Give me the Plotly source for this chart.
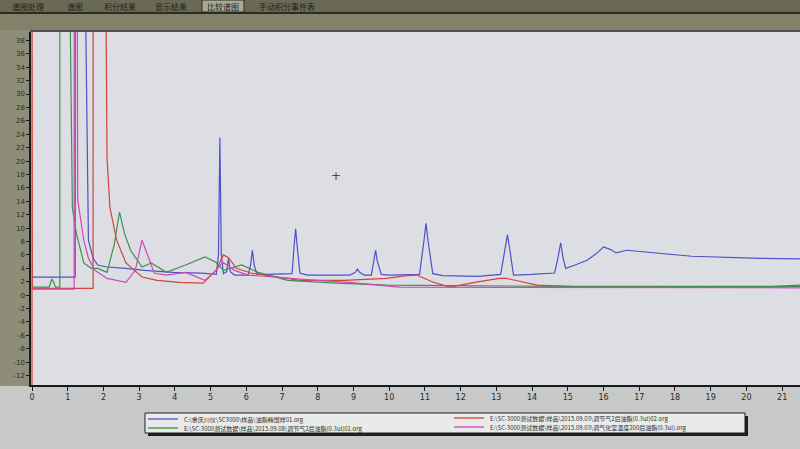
import plotly.graph_objects as go

# ---------------- data (time in min, signal in mV) ----------------
blue_pts = [(0.0, 2.7), (1.21, 2.7), (1.21, 60), (1.46, 60), (1.58, 8.2), (1.71, 5.5), (1.84, 4.5),
            (2.10, 4.2), (2.63, 4.0), (3.16, 3.7), (3.95, 3.4), (4.76, 3.3), (5.16, 3.1), (5.22, 6.0),
            (5.26, 23.5), (5.30, 6.0), (5.36, 3.2), (5.45, 3.5), (5.50, 5.5), (5.55, 3.5), (5.67, 3.0),
            (6.05, 3.0), (6.12, 4.5), (6.17, 6.7), (6.22, 4.5), (6.30, 3.1), (6.61, 3.1), (7.28, 3.2),
            (7.34, 7.5), (7.38, 9.9), (7.42, 7.5), (7.50, 3.3), (7.70, 3.0), (8.90, 3.0), (9.05, 3.4),
            (9.11, 3.9), (9.17, 3.4), (9.30, 3.0), (9.50, 3.0), (9.57, 5.0), (9.62, 6.7), (9.67, 5.0),
            (9.78, 3.1), (10.0, 3.0), (10.85, 3.1), (10.97, 8.0), (11.03, 10.7), (11.09, 8.0),
            (11.22, 3.2), (11.5, 2.9), (12.5, 2.8), (13.12, 3.1), (13.25, 7.0), (13.31, 9.0),
            (13.37, 7.0), (13.48, 3.0), (14.0, 3.1), (14.63, 3.3), (14.72, 5.5), (14.80, 7.8),
            (14.87, 5.5), (14.94, 4.0), (15.2, 4.5), (15.54, 5.2), (15.8, 6.2), (16.0, 7.2),
            (16.2, 6.8), (16.35, 6.3), (16.65, 6.7), (17.5, 6.3), (18.47, 5.8), (20.4, 5.5), (21.5, 5.4)]

red_pts = [(0.0, -40), (0.0, 60), (0.01, 1.0), (1.71, 1.0), (1.71, 60), (2.05, 60), (2.10, 20.6),
           (2.18, 13.1), (2.37, 8.2), (2.63, 4.8), (3.08, 2.7), (3.50, 2.2), (4.13, 1.9), (4.79, 1.8),
           (5.15, 3.7), (5.36, 6.0), (5.50, 5.6), (5.72, 4.0), (6.13, 3.3), (6.89, 2.7), (7.51, 2.2),
           (8.74, 2.2), (9.92, 2.5), (10.5, 2.9), (10.77, 3.0), (11.2, 2.0), (11.69, 1.2), (12.4, 1.9),
           (13.08, 2.5), (13.28, 2.5), (14.14, 1.5), (15.56, 1.2), (20.4, 1.2), (21.5, 1.5)]

green_pts = [(0.0, 1.2), (0.48, 1.2), (0.53, 2.0), (0.56, 2.4), (0.60, 2.0), (0.66, 1.2), (0.78, 1.2),
             (0.78, 60), (1.03, 60), (1.13, 13.1), (1.24, 9.3), (1.45, 4.8), (1.66, 4.0), (1.84, 4.0),
             (2.10, 3.4), (2.30, 7.5), (2.45, 12.4), (2.60, 9.0), (2.76, 6.7), (3.08, 4.2), (3.34, 4.8),
             (3.76, 3.4), (4.30, 4.5), (4.84, 5.7), (5.15, 4.9), (5.36, 3.7), (5.87, 4.5), (6.33, 3.4),
             (7.16, 2.2), (8.51, 1.8), (9.92, 1.5), (15.0, 1.3), (21.5, 1.3)]

magenta_pts = [(0.0, 0.9), (1.18, 0.9), (1.18, 60), (1.26, 60), (1.28, 14.2), (1.45, 8.2), (1.58, 5.5),
               (1.76, 3.7), (2.10, 2.5), (2.63, 1.9), (2.89, 3.7), (3.08, 8.2), (3.29, 5.2), (3.42, 3.3),
               (3.76, 3.0), (4.30, 3.4), (4.84, 2.2), (5.15, 3.7), (5.34, 4.9), (5.67, 3.7), (6.05, 3.0),
               (7.16, 2.5), (7.97, 2.2), (8.89, 1.9), (10.28, 1.2), (21.5, 1.1)]

series_names = [
    "C:\\重庆川仪\\SC3000\\样品\\油脂精馏样01.org",
    "E:\\SC-3000测试数据\\样品\\2015.09.03\\调节气2后油脂(0.3ul)02.org",
    "E:\\SC-3000测试数据\\样品\\2015.09.08\\调节气2后油脂(0.3ul)01.org",
    "E:\\SC-3000测试数据\\样品\\2015.09.03\\调气化室温度200后油脂(0.3ul).org",
]
series_colors = ["#5050c8", "#d4423a", "#3f8f50", "#d048b4"]
x_ticks = list(range(0, 22))
y_ticks = list(range(-12, 40, 2))
toolbar_labels = ["谱图处理", "谱图", "积分结果", "显示结果", "比较谱图", "手动积分事件表"]

# ---------------- figure ----------------
W, H = 800, 449
L, R, T, B = 31, 0, 32, 64
pw, ph = W - L - R, H - T - B


def px2x(px):
    return (px - L) / pw


def py2y(py):
    return (H - B - py) / ph


fig = go.Figure()
for pts, name, col in zip([blue_pts, red_pts, green_pts, magenta_pts], series_names, series_colors):
    fig.add_trace(go.Scatter(x=[p[0] for p in pts], y=[p[1] for p in pts], mode="lines",
                             name=name, line=dict(color=col, width=1.2), showlegend=False))

shapes = []
# top bands
shapes.append(dict(type="rect", xref="paper", yref="paper", x0=px2x(0), x1=px2x(800),
                   y0=py2y(30), y1=py2y(0), fillcolor="#82816a", line=dict(width=0), layer="below"))
shapes.append(dict(type="rect", xref="paper", yref="paper", x0=px2x(0), x1=px2x(800),
                   y0=py2y(12), y1=py2y(0), fillcolor="#6a6954", line=dict(width=0), layer="below"))
shapes.append(dict(type="line", xref="paper", yref="paper", x0=px2x(0), x1=px2x(800),
                   y0=py2y(13), y1=py2y(13), line=dict(color="#2c2c26", width=2)))
# left strip
shapes.append(dict(type="rect", xref="paper", yref="paper", x0=px2x(0), x1=px2x(30),
                   y0=py2y(386), y1=py2y(30), fillcolor="#8e8d78", line=dict(width=0), layer="below"))
# top border of plot area
shapes.append(dict(type="line", xref="paper", yref="paper", x0=px2x(30), x1=px2x(800),
                   y0=py2y(31), y1=py2y(31), line=dict(color="#2a2a2a", width=1.5)))
# compare-button box
shapes.append(dict(type="rect", xref="paper", yref="paper", x0=px2x(202), x1=px2x(244),
                   y0=py2y(12), y1=py2y(0), fillcolor="#a9a892", line=dict(color="#2a2a22", width=1)))
# legend box + shadow
shapes.append(dict(type="rect", xref="paper", yref="paper", x0=px2x(148), x1=px2x(748),
                   y0=py2y(436), y1=py2y(416), fillcolor="#1e1e1e", line=dict(width=0)))
shapes.append(dict(type="rect", xref="paper", yref="paper", x0=px2x(145), x1=px2x(745),
                   y0=py2y(433), y1=py2y(413), fillcolor="#e9ebea", line=dict(color="#1e1e1e", width=1)))
ann = []
legend_pos = [(148, 419), (454, 418), (148, 428), (454, 427)]
for (lx, ly), name, col in zip(legend_pos, series_names, series_colors):
    shapes.append(dict(type="line", xref="paper", yref="paper", x0=px2x(lx), x1=px2x(lx + 30),
                       y0=py2y(ly), y1=py2y(ly), line=dict(color=col, width=1.3)))
    ann.append(dict(xref="paper", yref="paper", x=px2x(lx + 34), y=py2y(ly), text=name,
                    showarrow=False, xanchor="left", yanchor="middle",
                    font=dict(size=6, color="#303030", family="Noto Sans CJK SC")))

# toolbar labels
tb_x = [28, 75, 120, 171, 223, 287]
for tx, lab in zip(tb_x, toolbar_labels):
    ann.append(dict(xref="paper", yref="paper", x=px2x(tx), y=py2y(6), text=lab, showarrow=False,
                    xanchor="center", yanchor="middle",
                    font=dict(size=8, color="#1e1e18", family="Noto Sans CJK SC")))
# cursor cross
ann.append(dict(xref="paper", yref="paper", x=px2x(336), y=py2y(176), text="+", showarrow=False,
                font=dict(size=12, color="#8a2a2a", family="DejaVu Sans")))

fig.update_layout(
    width=W, height=H,
    margin=dict(l=L, r=R, t=T, b=B),
    paper_bgcolor="#c7c9c8",
    plot_bgcolor="#dcdee4",
    shapes=shapes,
    annotations=ann,
    showlegend=False,
)
fig.update_xaxes(range=[-0.028, 21.5], tickvals=x_ticks, ticktext=[str(v) for v in x_ticks],
                 showgrid=False, zeroline=False, showline=True, linecolor="#1a1a1a", linewidth=1.5,
                 ticks="outside", ticklen=4, tickcolor="#1a1a1a",
                 tickfont=dict(size=8, color="#2a2a2a", family="DejaVu Sans"))
fig.update_yaxes(range=[-13.4, 39.25], tickvals=y_ticks, ticktext=[str(v) for v in y_ticks],
                 showgrid=False, zeroline=False, showline=True, linecolor="#1a1a1a", linewidth=1.5,
                 ticks="outside", ticklen=3, tickcolor="#1a1a1a",
                 tickfont=dict(size=7, color="#2a2a22", family="DejaVu Sans"))

fig.write_html("out.html", config={"displayModeBar": False},
               post_script="document.body.style.margin='0px';")
